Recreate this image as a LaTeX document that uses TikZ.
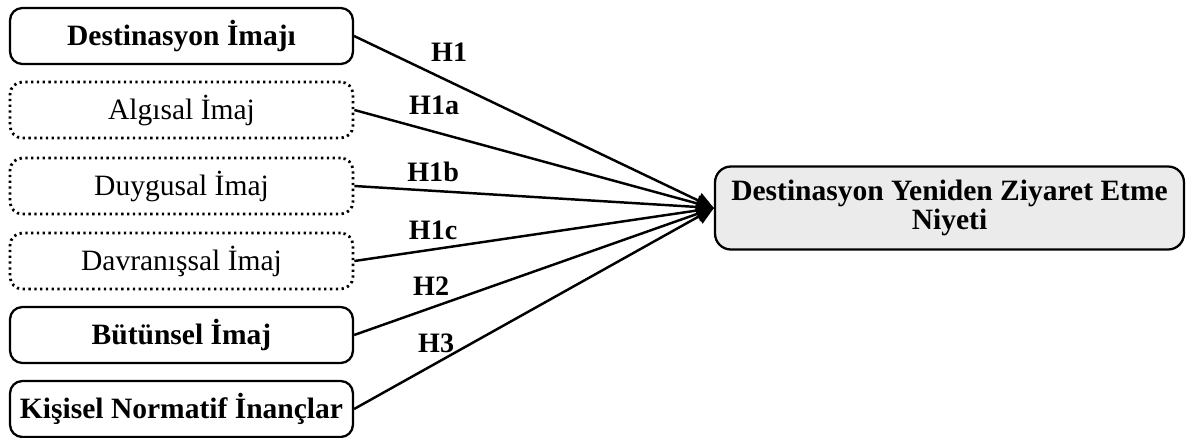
\documentclass[tikz,border=0pt]{standalone}
\usepackage{fontspec}
\setmainfont{Liberation Serif}
\usetikzlibrary{arrows.meta, positioning}

\begin{document}
\begin{tikzpicture}[
    x=0.02cm, y=-0.02cm,
    srcbox/.style={rectangle, rounded corners=7pt, draw, line width=1.3pt,
        minimum width=6.86cm, minimum height=1.12cm, inner sep=0pt,
        font=\fontsize{16.8}{19}\selectfont\bfseries},
    subbox/.style={srcbox, dotted, line width=1.6pt, font=\fontsize{16.8}{19}\selectfont},
    goalbox/.style={rectangle, rounded corners=9pt, draw, line width=1.3pt, fill=black!8,
        minimum width=9.38cm, minimum height=1.66cm, align=center, inner sep=0pt,
        font=\fontsize{16.8}{16.5}\selectfont\bfseries},
    arrow/.style={-{Triangle[length=10pt, width=9pt]}, line width=1.4pt},
    hyp/.style={inner sep=2pt, font=\fontsize{16}{18}\selectfont\bfseries}
]
\useasboundingbox (0,0) rectangle (1186,437);

% Nodes
\node[srcbox] (imaj) at (181.5,36) {Destinasyon İmajı};
\node[subbox] (algisal) at (181.5,110) {Algısal İmaj};
\node[subbox] (duygusal) at (181.5,186) {Duygusal İmaj};
\node[subbox] (davranis) at (181.5,261) {Davranışsal İmaj};
\node[srcbox] (butunsel) at (181.5,335) {Bütünsel İmaj};
\node[srcbox] (inanc) at (181.5,409) {Kişisel Normatif İnançlar};
\node[goalbox] (niyet) at (949.5,208) {Destinasyon Yeniden Ziyaret Etme\\Niyeti};

% Hypotheses
\draw[arrow] (imaj.east) -- node[hyp, pos=0.264, above=8.5pt] {H1} (niyet.west);
\draw[arrow] (algisal.east) -- node[hyp, pos=0.222, above=6.8pt] {H1a} (niyet.west);
\draw[arrow] (duygusal.east) -- node[hyp, pos=0.219, above=2.2pt] {H1b} (niyet.west);
\draw[arrow] (davranis.east) -- node[hyp, pos=0.219, above=2.8pt] {H1c} (niyet.west);
\draw[arrow] (butunsel.east) -- node[hyp, pos=0.214, above=4.5pt] {H2} (niyet.west);
\draw[arrow] (inanc.east) -- node[hyp, pos=0.228, above=3.4pt] {H3} (niyet.west);

\end{tikzpicture}
\end{document}
